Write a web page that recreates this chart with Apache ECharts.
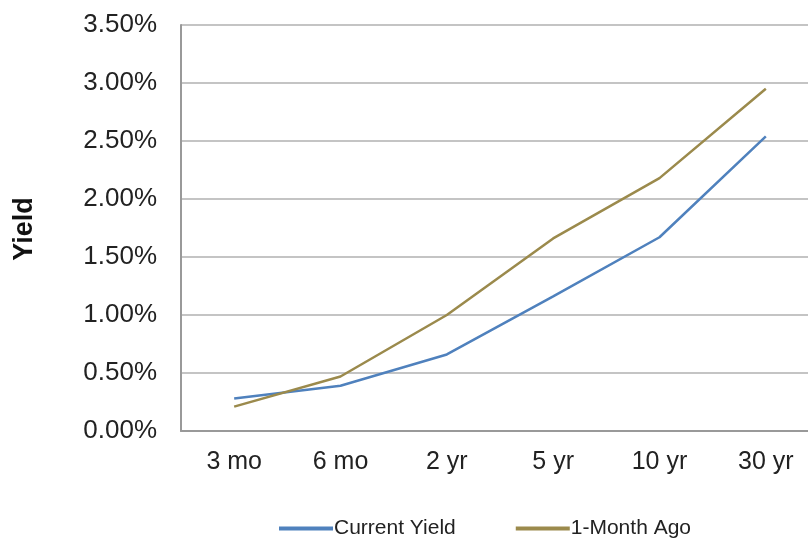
<!DOCTYPE html>
<html>
<head>
<meta charset="utf-8">
<script src="https://cdn.jsdelivr.net/npm/echarts@6/dist/echarts.min.js"></script>
<style>
  html, body { margin: 0; padding: 0; background: #ffffff; overflow: hidden; }
  #wrap { width: 808px; height: 538px; overflow: hidden; }
  /* the plot runs a little past the right edge of the view */
  #chart { width: 820px; height: 538px; }
</style>
</head>
<body>
<div id="wrap"><div id="chart"></div></div>
<script>
// Treasury maturities and yields (percent)
const maturities = ['3 mo', '6 mo', '2 yr', '5 yr', '10 yr', '30 yr'];
const currentYield = [0.28, 0.39, 0.66, 1.16, 1.67, 2.54];
const monthAgoYield = [0.21, 0.47, 1.00, 1.66, 2.18, 2.95];
const yTicks = { min: 0, max: 3.5, interval: 0.5 };

const FONT = '"Liberation Sans", Arial, sans-serif';
const BLUE = '#4f81bd';
const GOLD = '#9b8a4c';

const chart = echarts.init(document.getElementById('chart'), null, { renderer: 'canvas' });

chart.setOption({
  animation: false,
  backgroundColor: '#ffffff',
  textStyle: { fontFamily: FONT },
  grid: { left: 181, top: 25, right: 1, bottom: 107, containLabel: false },
  graphic: [{
    type: 'text',
    x: 25,
    y: 229,
    rotation: Math.PI / 2,
    style: {
      text: 'Yield',
      font: 'bold 27px ' + FONT,
      fill: '#111111',
      align: 'center',
      verticalAlign: 'middle'
    }
  }],
  legend: {
    top: 513,
    left: 274,
    itemWidth: 54,
    itemHeight: 4,
    itemGap: 60,
    icon: 'rect',
    textStyle: { fontSize: 21, color: '#222222', fontFamily: FONT, padding: [0, 0, 0, -4] },
    data: ['Current Yield', '1-Month Ago']
  },
  xAxis: {
    type: 'category',
    data: maturities,
    boundaryGap: true,
    axisLine: { show: true, lineStyle: { color: '#999999', width: 2 } },
    axisTick: { show: false },
    axisLabel: { margin: 19, fontSize: 25, color: '#222222', fontFamily: FONT, interval: 0 },
    splitLine: { show: false }
  },
  yAxis: {
    type: 'value',
    min: yTicks.min,
    max: yTicks.max,
    interval: yTicks.interval,
    axisLine: { show: true, lineStyle: { color: '#999999', width: 2 } },
    axisTick: { show: false },
    axisLabel: {
      margin: 24, fontSize: 26, color: '#222222', fontFamily: FONT,
      formatter: v => v.toFixed(2) + '%'
    },
    splitLine: { show: true, lineStyle: { color: '#c4c4c4', width: 2 } }
  },
  series: [
    {
      name: 'Current Yield',
      type: 'line',
      data: currentYield,
      symbol: 'none',
      smooth: false,
      lineStyle: { color: BLUE, width: 2.5 },
      itemStyle: { color: BLUE }
    },
    {
      name: '1-Month Ago',
      type: 'line',
      data: monthAgoYield,
      symbol: 'none',
      smooth: false,
      lineStyle: { color: GOLD, width: 2.5 },
      itemStyle: { color: GOLD }
    }
  ]
});
</script>
</body>
</html>
